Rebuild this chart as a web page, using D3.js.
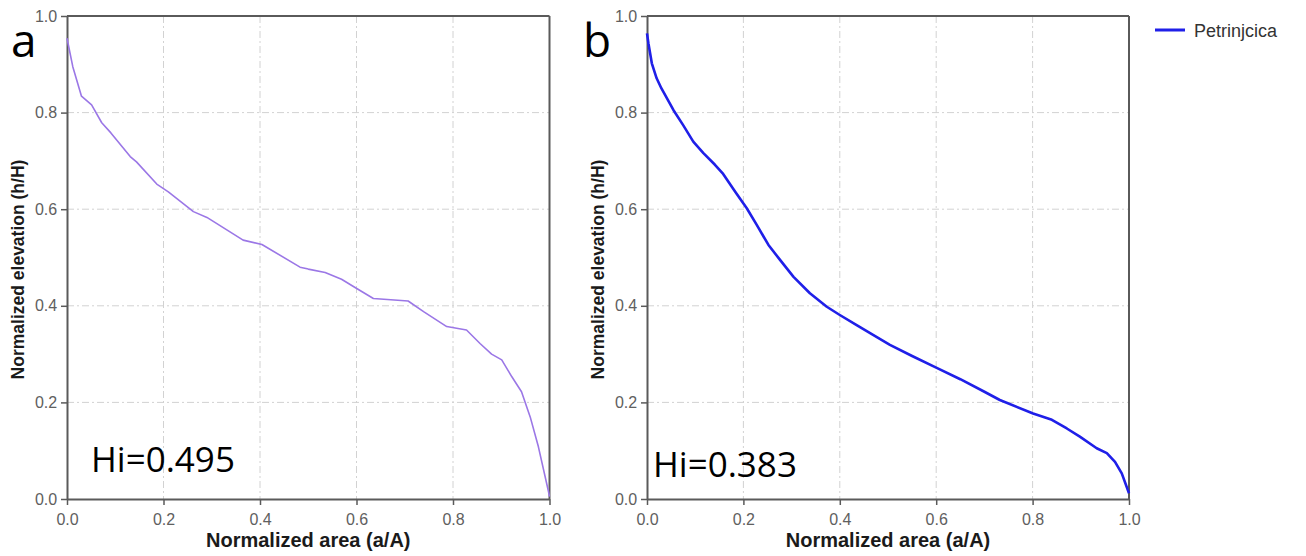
<!DOCTYPE html>
<html><head><meta charset="utf-8">
<script src="https://cdn.jsdelivr.net/npm/d3@7"></script>
<style>body{margin:0;background:#fff;} svg{display:block;}</style>
</head><body>
<svg id="chart" width="1306" height="556"></svg>
<script>
// ---- data ----
const ticks = [0, 0.2, 0.4, 0.6, 0.8, 1.0];
const areaA = [0,0.012,0.030,0.051,0.072,0.091,0.131,0.144,0.186,0.210,0.262,0.290,0.365,0.404,0.483,0.500,0.535,0.569,0.597,0.635,0.707,0.739,0.787,0.828,0.856,0.880,0.901,0.922,0.942,0.960,0.977,0.998,1.0];
const elevA = [0.954,0.895,0.834,0.816,0.779,0.758,0.709,0.698,0.652,0.636,0.595,0.583,0.536,0.527,0.480,0.476,0.469,0.455,0.438,0.415,0.410,0.388,0.357,0.350,0.322,0.300,0.288,0.253,0.222,0.170,0.108,0.015,0.005];
const areaB = [0,0.003,0.010,0.020,0.030,0.055,0.075,0.096,0.117,0.141,0.158,0.183,0.207,0.228,0.252,0.276,0.304,0.338,0.373,0.400,0.435,0.469,0.504,0.55,0.60,0.65,0.70,0.732,0.801,0.840,0.871,0.898,0.933,0.954,0.971,0.985,1.0];
const elevB = [0.964,0.943,0.902,0.871,0.850,0.805,0.774,0.740,0.716,0.692,0.673,0.636,0.602,0.567,0.526,0.495,0.460,0.426,0.398,0.381,0.360,0.340,0.319,0.296,0.272,0.248,0.222,0.205,0.177,0.164,0.146,0.129,0.105,0.095,0.077,0.053,0.012];
const panels = [
  {label:"a", hi:"Hi=0.495", x:areaA, y:elevA, color:"#9b77e6", width:1.6, left:67, right:549.5},
  {label:"b", hi:"Hi=0.383", x:areaB, y:elevB, color:"#1f1fe8", width:2.6, left:647, right:1129}
];
const legendName = "Petrinjcica";
const xTitle = "Normalized area (a/A)";
const yTitle = "Normalized elevation (h/H)";

const svg = d3.select("#chart");
const plotTop = 16, plotBottom = 499;
const axisColor = "#5a5a5a";

panels.forEach(p => {
  const x = d3.scaleLinear().domain([0,1]).range([p.left, p.right]);
  const y = d3.scaleLinear().domain([0,1]).range([plotBottom, plotTop]);
  const g = svg.append("g");

  // grid
  const inner = ticks.filter(t => t > 0 && t < 1);
  g.selectAll(".vg").data(inner).enter().append("line")
    .attr("x1", d => x(d)).attr("x2", d => x(d)).attr("y1", plotTop).attr("y2", plotBottom)
    .attr("stroke", "#d2d2d2").attr("stroke-width", 1).attr("stroke-dasharray", "7,3,2,3");
  g.selectAll(".hg").data(inner).enter().append("line")
    .attr("y1", d => y(d)).attr("y2", d => y(d)).attr("x1", p.left).attr("x2", p.right)
    .attr("stroke", "#d2d2d2").attr("stroke-width", 1).attr("stroke-dasharray", "7,3,2,3");

  // axes
  const xa = g.append("g").attr("transform", `translate(0,${plotBottom})`)
    .call(d3.axisBottom(x).tickValues(ticks).tickFormat(d3.format(".1f")).tickSize(6).tickSizeOuter(0));
  const ya = g.append("g").attr("transform", `translate(${p.left},0)`)
    .call(d3.axisLeft(y).tickValues(ticks).tickFormat(d3.format(".1f")).tickSize(6).tickSizeOuter(0));
  [xa, ya].forEach(a => {
    a.select(".domain").attr("stroke", axisColor).attr("stroke-width", 2);
    a.selectAll(".tick line").attr("stroke", axisColor).attr("stroke-width", 1.5);
    a.selectAll(".tick text").attr("fill", "#606060").style("font-family", "Liberation Sans, Arial, sans-serif").style("font-size", "16px");
  });
  xa.selectAll(".tick text").attr("dy", "1.05em");
  ya.selectAll(".tick text").attr("dx", "-0.05em");
  // top and right borders
  g.append("line").attr("x1", p.left).attr("x2", p.right).attr("y1", plotTop).attr("y2", plotTop)
    .attr("stroke", axisColor).attr("stroke-width", 2);
  g.append("line").attr("x1", p.right).attr("x2", p.right).attr("y1", plotTop).attr("y2", plotBottom)
    .attr("stroke", axisColor).attr("stroke-width", 2);

  // curve
  const pts = p.x.map((v, i) => [v, p.y[i]]);
  g.append("path").datum(pts)
    .attr("d", d3.line().x(d => x(d[0])).y(d => y(d[1])).curve(d3.curveLinear))
    .attr("fill", "none").attr("stroke", p.color).attr("stroke-width", p.width).attr("stroke-linejoin", "round");

  // titles
  g.append("text").attr("x", (p.left + p.right) / 2).attr("y", 547)
    .attr("text-anchor", "middle").style("font-family", "Liberation Sans, Arial, sans-serif")
    .style("font-weight", "bold").style("font-size", "20px").attr("fill", "#1a1a1a").text(xTitle);
  g.append("text").attr("transform", `translate(${p.left - 43},${(plotTop + plotBottom) / 2 + 12}) rotate(-90)`)
    .attr("text-anchor", "middle").style("font-family", "Liberation Sans, Arial, sans-serif")
    .style("font-weight", "bold").style("font-size", "17.5px").attr("fill", "#1a1a1a").text(yTitle);

  // panel label & Hi
  g.append("text").attr("x", p.left - (p.label === "a" ? 56 : 64)).attr("y", 57)
    .style("font-family", "Open Sans, sans-serif").style("font-size", "46px").attr("fill", "#000").text(p.label);
  g.append("text").attr("x", p.left + (p.label === "a" ? 24 : 6)).attr("y", p.label === "a" ? 472 : 477)
    .style("font-family", "Open Sans, sans-serif").style("font-size", "35px").attr("fill", "#000").text(p.hi);
});

// legend
svg.append("line").attr("x1", 1155).attr("x2", 1185).attr("y1", 30).attr("y2", 30)
  .attr("stroke", panels[1].color).attr("stroke-width", 3);
svg.append("text").attr("x", 1194).attr("y", 37)
  .style("font-family", "Liberation Sans, Arial, sans-serif").style("font-size", "18px").attr("fill", "#333").text(legendName);
</script>
</body></html>
